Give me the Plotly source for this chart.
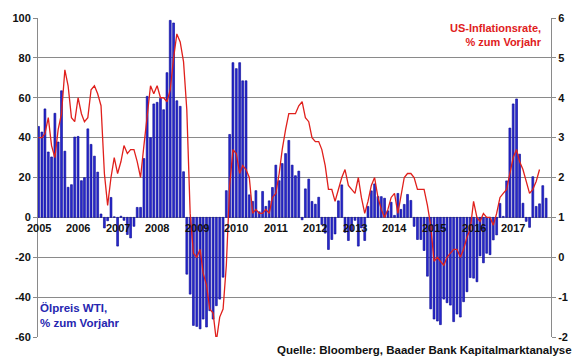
import plotly.graph_objects as go
import pandas as pd

# Monthly categories
months_oil = pd.date_range("2005-01-01", "2017-11-01", freq="MS")
months_cpi = pd.date_range("2005-01-01", "2017-09-01", freq="MS")

# Ölpreis WTI, % zum Vorjahr (left axis)
oil_2005 = [45.6, 42.8, 54.4, 32.8, 30.3, 52.2, 37.8, 63.5, 33.2, 15.1, 16.4, 40.3]
oil_2006 = [40.6, 18.4, 19.9, 44.4, 36.6, 30.7, 22.7, 1.7, -5.3, -1.7, 10.0, 0.3]
oil_2007 = [-14.4, 0.6, -1.5, -8.6, -10.3, -4.5, 5.0, 5.0, 29.5, 60.7, 40.0, 56.9]
oil_2008 = [57.7, 59.7, 54.0, 72.6, 98.8, 97.5, 58.5, 55.7, 22.9, -28.5, -38.5, -54.2]
oil_2009 = [-54.7, -55.9, -51.0, -55.0, -46.8, -51.0, -44.3, -41.0, -30.0, 13.4, 41.6, 77.6]
oil_2010 = [74.6, 77.6, 68.5, 68.5, 11.3, 8.0, 13.4, 2.8, 13.0, 5.5, 8.3, 15.0]
oil_2011 = [26.2, 18.4, 27.0, 32.0, 38.6, 26.2, 20.9, 23.2, -1.2, 14.3, 19.2, 8.0]
oil_2012 = [6.6, 10.1, -3.6, -7.9, -16.1, -11.1, -8.3, 8.3, 16.3, -7.5, -11.6, -7.0]
oil_2013 = [-1.5, -14.4, -5.3, -11.6, 5.5, 13.3, 16.8, 10.5, 10.4, 9.6, 3.3, 7.6]
oil_2014 = [1.0, 12.0, 4.0, 6.5, 11.5, 8.5, -4.5, -11.1, -11.1, -16.6, -29.5, -45.9]
oil_2015 = [-51.0, -52.0, -53.8, -41.0, -42.8, -44.0, -52.3, -48.5, -50.0, -42.3, -37.3, -30.2]
oil_2016 = [-30.5, -32.3, -19.3, -22.8, -18.0, -18.7, -11.3, -8.8, 7.0, 0.5, 18.3, 44.8]
oil_2017 = [56.9, 59.4, 31.7, 7.1, -2.0, -5.0, 20.4, 5.5, 6.8, 15.9, 9.6]

# US-Inflationsrate, % zum Vorjahr (right axis)
cpi_2005 = [3.0, 3.0, 3.1, 3.5, 2.8, 2.5, 3.2, 3.6, 4.7, 4.3, 3.5, 3.4]
cpi_2006 = [4.0, 3.6, 3.4, 3.5, 4.2, 4.3, 4.1, 3.8, 2.1, 1.3, 2.0, 2.5]
cpi_2007 = [2.1, 2.4, 2.8, 2.6, 2.7, 2.7, 2.4, 2.0, 2.8, 3.5, 4.3, 4.1]
cpi_2008 = [4.3, 4.0, 4.0, 3.9, 4.2, 5.0, 5.6, 5.4, 4.9, 3.7, 1.1, 0.1]
cpi_2009 = [0.0, 0.2, -0.4, -0.7, -1.3, -1.4, -2.1, -1.5, -1.3, -0.2, 1.8, 2.7]
cpi_2010 = [2.6, 2.1, 2.3, 2.2, 2.0, 1.1, 1.2, 1.1, 1.1, 1.2, 1.1, 1.5]
cpi_2011 = [1.6, 2.1, 2.7, 3.2, 3.6, 3.6, 3.6, 3.8, 3.9, 3.5, 3.4, 3.0]
cpi_2012 = [2.9, 2.9, 2.7, 2.3, 1.7, 1.7, 1.4, 1.7, 2.0, 2.2, 1.8, 1.7]
cpi_2013 = [1.6, 2.0, 1.5, 1.1, 1.4, 1.8, 2.0, 1.5, 1.2, 1.0, 1.2, 1.5]
cpi_2014 = [1.6, 1.1, 1.5, 2.0, 2.1, 2.1, 2.0, 1.7, 1.7, 1.7, 1.3, 0.8]
cpi_2015 = [-0.1, 0.0, -0.1, -0.2, 0.0, 0.1, 0.2, 0.2, 0.0, 0.2, 0.5, 0.7]
cpi_2016 = [1.4, 1.0, 0.9, 1.1, 1.0, 1.0, 0.8, 1.1, 1.5, 1.6, 1.7, 2.1]
cpi_2017 = [2.5, 2.7, 2.4, 2.2, 1.9, 1.6, 1.7, 1.9, 2.2]

oil = (oil_2005 + oil_2006 + oil_2007 + oil_2008 + oil_2009 + oil_2010 + oil_2011
       + oil_2012 + oil_2013 + oil_2014 + oil_2015 + oil_2016 + oil_2017)
cpi = (cpi_2005 + cpi_2006 + cpi_2007 + cpi_2008 + cpi_2009 + cpi_2010 + cpi_2011
       + cpi_2012 + cpi_2013 + cpi_2014 + cpi_2015 + cpi_2016 + cpi_2017)

year_labels = [str(y) for y in range(2005, 2018)]
left_ticks = [-60, -40, -20, 0, 20, 40, 60, 80, 100]
right_ticks = [-2, -1, 0, 1, 2, 3, 4, 5, 6]

FONT = "Liberation Sans, Arial, sans-serif"
GRID = "#8a8a8a"

fig = go.Figure()
fig.add_trace(go.Bar(
    x=months_oil, y=oil, name="Ölpreis WTI",
    marker=dict(color="#2a2ad0", line=dict(color="#000090", width=0.6)),
    yaxis="y",
))
fig.add_trace(go.Scatter(
    x=months_cpi, y=cpi, name="US-Inflationsrate", mode="lines",
    line=dict(color="#e0201c", width=1.3),
    yaxis="y2",
))

annotations = []
for lab in year_labels:
    annotations.append(dict(
        x=f"{lab}-01-01", y=0, xref="x", yref="y", text=f"<b>{lab}</b>",
        showarrow=False, yanchor="top", xanchor="center", yshift=-3,
        font=dict(family=FONT, size=11, color="#111111"),
    ))
annotations += [
    dict(x=0.987, y=0.947, xref="paper", yref="paper",
         text="<b>US-Inflationsrate,<br>% zum Vorjahr</b>", showarrow=False,
         xanchor="right", yanchor="middle", align="right",
         font=dict(family=FONT, size=11, color="#e0201c")),
    dict(x=0.0, y=0.066, xref="paper", yref="paper",
         text="<b>Ölpreis WTI,<br>% zum Vorjahr</b>", showarrow=False,
         xanchor="left", yanchor="middle", align="left",
         font=dict(family=FONT, size=11.5, color="#2626b0")),
    dict(x=1.045, y=-0.040, xref="paper", yref="paper",
         text="<b>Quelle: Bloomberg, Baader Bank Kapitalmarktanalyse</b>",
         showarrow=False, xanchor="right", yanchor="middle",
         font=dict(family=FONT, size=11.5, color="#111111")),
]

fig.update_layout(
    width=580, height=358, autosize=False,
    margin=dict(l=30, r=26, t=15, b=21),
    paper_bgcolor="white", plot_bgcolor="white",
    showlegend=False, bargap=0.38,
    font=dict(family=FONT, size=11, color="#111111"),
    xaxis=dict(type="date", range=["2004-12-27", "2017-12-16"],
               showticklabels=False, showgrid=False, zeroline=False,
               showline=False, ticks=""),
    yaxis=dict(range=[-60, 100], tickvals=left_ticks,
               ticktext=[f"<b>{v}</b>" for v in left_ticks],
               showgrid=True, gridcolor=GRID, gridwidth=1,
               zeroline=False, showline=True, linecolor=GRID, linewidth=1,
               ticks="outside", ticklen=4, tickcolor=GRID,
               tickfont=dict(family=FONT, size=11, color="#111111")),
    yaxis2=dict(range=[-2, 6], tickvals=right_ticks,
                ticktext=[f"<b>{v}</b>" for v in right_ticks],
                overlaying="y", side="right", showgrid=False, zeroline=False,
                showline=True, linecolor=GRID, linewidth=1,
                ticks="outside", ticklen=4, tickcolor=GRID,
                tickfont=dict(family=FONT, size=11, color="#111111")),
    annotations=annotations,
)

fig.write_html("out.html", config={"displayModeBar": False},
               post_script="document.body.style.margin='0px';")
